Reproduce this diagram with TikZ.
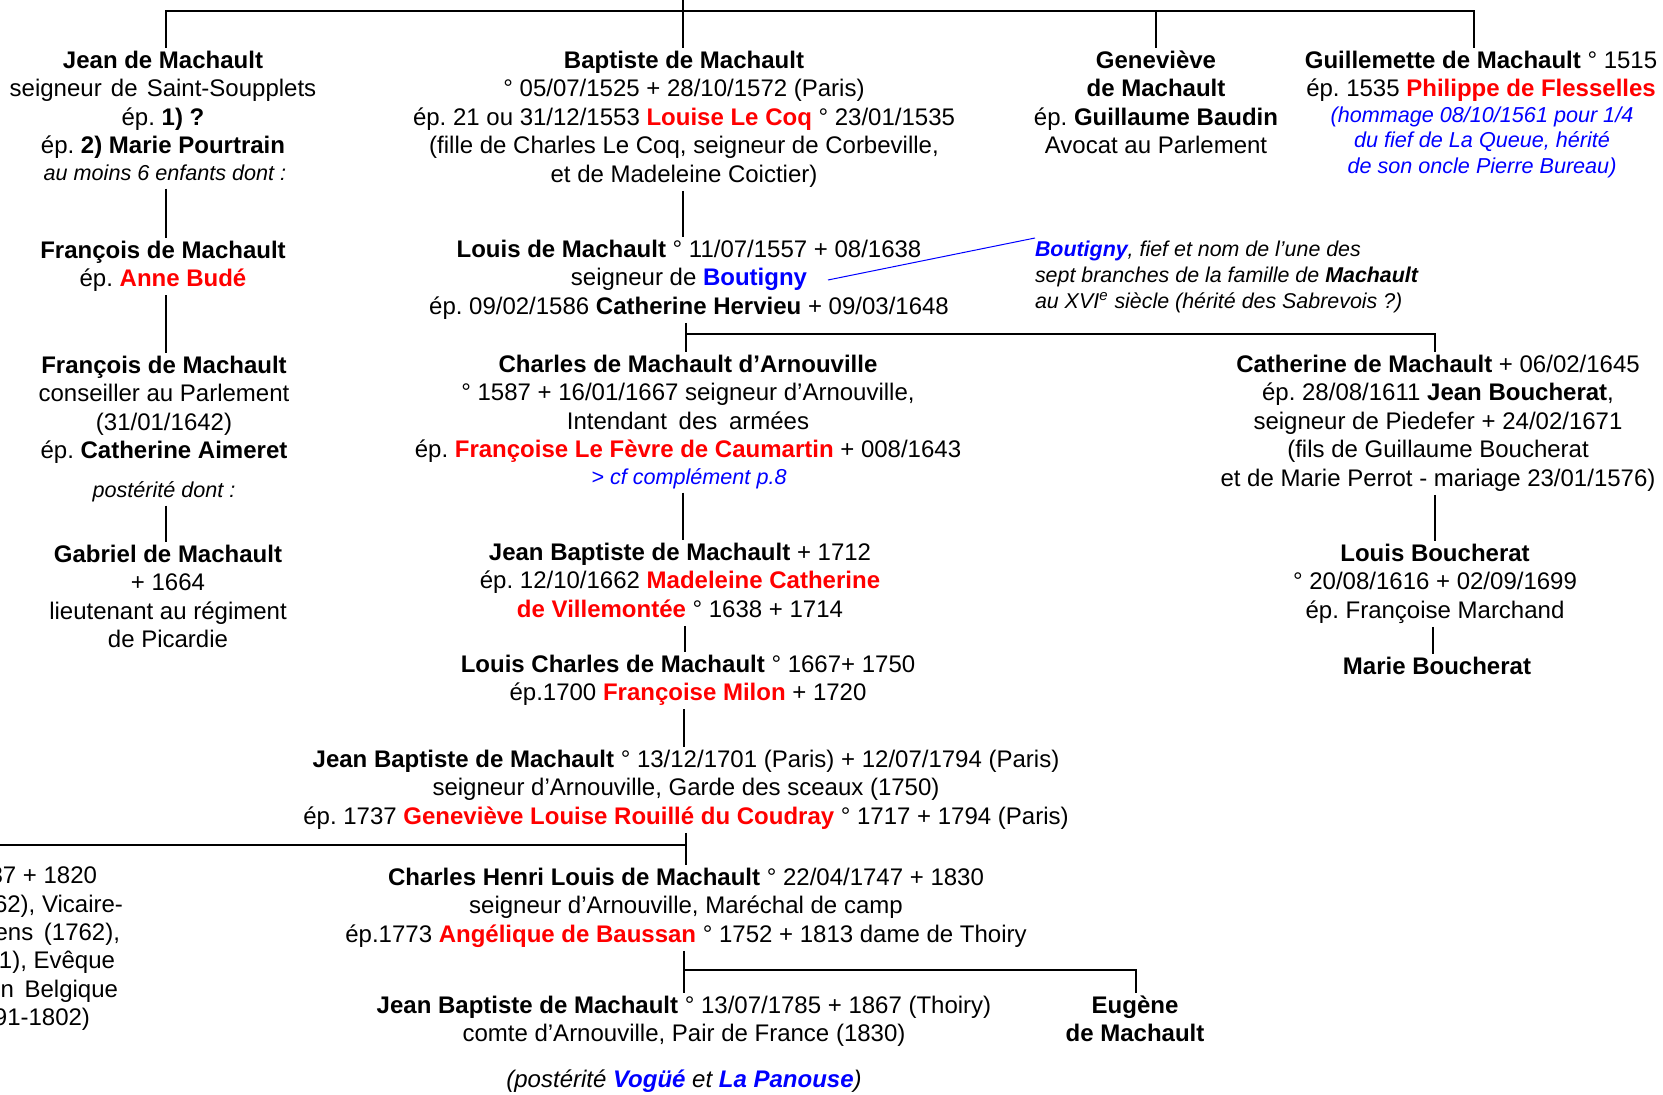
\documentclass[tikz,border=0pt]{standalone}
\usepackage{fontspec}
\setmainfont{Liberation Sans}
\definecolor{rred}{RGB}{255,0,0}
\definecolor{bblue}{RGB}{0,0,255}
\newcommand{\redb}[1]{\textcolor{rred}{\bfseries #1}}
\newcommand{\blueb}[1]{\textcolor{bblue}{\bfseries #1}}
\frenchspacing
\begin{document}
\frenchspacing
\begin{tikzpicture}[x=0.5pt,y=-0.5pt,
  every node/.style={inner sep=0pt,outer sep=0pt},
  person/.style={anchor=north,align=center,font=\fontsize{12}{14.3}\selectfont\frenchspacing},
  note/.style={anchor=north,align=center,font=\fontsize{10.8}{12.8}\selectfont\itshape\frenchspacing},
  cutline/.style={anchor=base east,font=\fontsize{12}{14.3}\selectfont\frenchspacing},
  link/.style={line width=1.1pt},
  noteline/.style={bblue,line width=0.5pt}]
\useasboundingbox (0,0) rectangle (1663,1095);
\clip (0,0) rectangle (1663,1095);

% ---------- left column
\node[person] (jean) at (163,48) {\strut\textbf{Jean de Machault}\\ seigneur\hspace{1.25pt} de\hspace{1.25pt} Saint-Soupplets\\ ép. \textbf{1) ?}\\ \strut ép. \textbf{2) Marie Pourtrain}};
\node[note] (jeanN) at (165,163) {\strut au moins 6 enfants dont :};
\node[person] (fr1) at (163,238) {\strut\textbf{François de Machault}\\ \strut ép. \redb{Anne Budé}};
\node[person] (fr2) at (164,353) {\strut\textbf{François de Machault}\\ conseiller au Parlement\\ (31/01/1642)\\ \strut ép. \textbf{Catherine Aimeret}};
\node[note] (frN) at (164,480) {\strut postérité dont :};
\node[person] (gab) at (168,542) {\strut\textbf{Gabriel de Machault}\\ + 1664\\ lieutenant au régiment\\ \strut de Picardie};

% ---------- top row
\node[person] (bapt) at (684,48) {\strut\textbf{Baptiste de Machault}\\ ° 05/07/1525 + 28/10/1572 (Paris)\\ ép. 21 ou 31/12/1553 \redb{Louise Le Coq} ° 23/01/1535\\ (fille de Charles Le Coq, seigneur de Corbeville,\\ \strut et de Madeleine Coictier)};
\node[person] (gen) at (1156,48) {\strut\textbf{Geneviève}\\ \textbf{de Machault}\\ ép. \textbf{Guillaume Baudin}\\ \strut Avocat au Parlement};
\node[person] (guil) at (1481,48) {\strut\textbf{Guillemette de Machault} ° 1515\\ \strut ép. 1535 \redb{Philippe de Flesselles}};
\node[note,text=bblue,font=\fontsize{10.8}{12.75}\selectfont\itshape\frenchspacing] (guilN) at (1482,104.6) {\strut(hommage 08/10/1561 pour 1/4\\ du fief de La Queue, hérité\\ \strut de son oncle Pierre Bureau)};

% ---------- centre column
\node[person] (louis) at (689,237) {\strut\textbf{Louis de Machault} ° 11/07/1557 + 08/1638\\ seigneur de \blueb{Boutigny}\\ \strut ép. 09/02/1586 \textbf{Catherine Hervieu} + 09/03/1648};
\node[anchor=north west,align=left,font=\fontsize{10.7}{13}\selectfont\itshape\frenchspacing] (bout) at (1035,238) {\strut\blueb{Boutigny}, fief et nom de l’une des\\ sept branches de la famille de \textbf{Machault}\\ \strut au XVI\textsuperscript{e} siècle (hérité des Sabrevois ?)};
\node[person] (charles) at (688,352) {\strut\textbf{Charles de Machault d’Arnouville}\\ ° 1587 + 16/01/1667 seigneur d’Arnouville,\\ Intendant\hspace{2.5pt} des\hspace{2.5pt} armées\\ \strut ép. \redb{Françoise Le Fèvre de Caumartin} + 008/1643};
\node[note,text=bblue] (charlesN) at (689,467) {\strut > cf complément p.8};
\node[person] (jb1) at (680,540) {\strut\textbf{Jean Baptiste de Machault} + 1712\\ ép. 12/10/1662 \redb{Madeleine Catherine}\\ \strut\redb{de Villemontée} ° 1638 + 1714};
\node[person] (lc) at (688,652) {\strut\textbf{Louis Charles de Machault} ° 1667+ 1750\\ \strut ép.1700 \redb{Françoise Milon} + 1720};
\node[person] (jb2) at (686,747) {\strut\textbf{Jean Baptiste de Machault} ° 13/12/1701 (Paris) + 12/07/1794 (Paris)\\ seigneur d’Arnouville, Garde des sceaux (1750)\\ \strut ép. 1737 \redb{Geneviève Louise Rouillé du Coudray} ° 1717 + 1794 (Paris)};
\node[person] (ch) at (686,865) {\strut\textbf{Charles Henri Louis de Machault} ° 22/04/1747 + 1830\\ seigneur d’Arnouville, Maréchal de camp\\ \strut ép.1773 \redb{Angélique de Baussan} ° 1752 + 1813 dame de Thoiry};
\node[person] (jb3) at (684,993) {\strut\textbf{Jean Baptiste de Machault} ° 13/07/1785 + 1867 (Thoiry)\\ \strut comte d’Arnouville, Pair de France (1830)};
\node[person,font=\fontsize{12}{14.3}\selectfont\itshape\frenchspacing] (post) at (684,1067) {\strut(postérité \blueb{Vogüé} et \blueb{La Panouse})};
\node[person] (eug) at (1135,993) {\strut\textbf{Eugène}\\ \strut\textbf{de Machault}};

% ---------- right column
\node[person] (cath) at (1438,352) {\strut\textbf{Catherine de Machault} + 06/02/1645\\ ép. 28/08/1611 \textbf{Jean Boucherat},\\ seigneur de Piedefer + 24/02/1671\\ (fils de Guillaume Boucherat\\ \strut et de Marie Perrot - mariage 23/01/1576)};
\node[person] (lb) at (1435,541) {\strut\textbf{Louis Boucherat}\\ ° 20/08/1616 + 02/09/1699\\ \strut ép. Françoise Marchand};
\node[person] (marie) at (1437,654) {\strut\textbf{Marie Boucherat}};

% ---------- text cut by the left edge (as in the reference)
\node[cutline] (bish1) at (97,883) {37 + 1820};
\node[cutline] (bish2) at (123,912) {62), Vicaire-};
\node[cutline] (bish3) at (120,940) {ens\hspace{2pt} (1762),};
\node[cutline] (bish4) at (115,968) {1), Evêque};
\node[cutline] (bish5) at (118,997) {n\hspace{2pt} Belgique};
\node[cutline] (bish6) at (90,1025) {91-1802)};

% ---------- coordinates
\coordinate (par) at (683,0);
\coordinate (bJ) at (166,11);
\coordinate (bN) at (1156,11);
\coordinate (bG) at (1474,11);
\coordinate (xl) at (166,0);
\coordinate (c1) at (683,0);
\coordinate (c3) at (685,0);
\coordinate (c4) at (684,0);
\coordinate (brL) at (686,334);
\coordinate (brR) at (1435,334);
\coordinate (brB) at (686,845);
\coordinate (edgeL) at (0,845);
\coordinate (brE1) at (684,970);
\coordinate (brE2) at (1136,970);
\coordinate (r1) at (1435,0);
\coordinate (r2) at (1433,0);
\coordinate (bl) at (828,280);

% ---------- connectors
\draw[link] (par) -- (bapt.north -| par);
\draw[link] (jean.north -| bJ) -- (bJ) -- (bG) -- (guil.north -| bG);
\draw[link] (bN) -- (gen.north -| bN);
\draw[link] (jeanN.south -| xl) -- (fr1.north -| xl);
\draw[link] (fr1.south -| xl) -- (fr2.north -| xl);
\draw[link] (frN.south -| xl) -- (gab.north -| xl);
\draw[link] (bapt.south -| c1) -- (louis.north -| c1);
\draw[link] (louis.south -| brL) -- (charles.north -| brL);
\draw[link] (brL) -- (brR) -- (cath.north -| brR);
\draw[link] (charlesN.south -| c1) -- (jb1.north -| c1);
\draw[link] (jb1.south -| c3) -- (lc.north -| c3);
\draw[link] (lc.south -| c4) -- (jb2.north -| c4);
\draw[link] (jb2.south -| brB) -- (ch.north -| brB);
\draw[link] (edgeL) -- (brB);
\draw[link] (ch.south -| c4) -- (jb3.north -| c4);
\draw[link] (brE1) -- (brE2) -- (eug.north -| brE2);
\draw[link] (cath.south -| r1) -- (lb.north -| r1);
\draw[link] (lb.south -| r2) -- (marie.north -| r2);
\draw[noteline] (bl) -- (bout.north west);
\end{tikzpicture}
\end{document}
